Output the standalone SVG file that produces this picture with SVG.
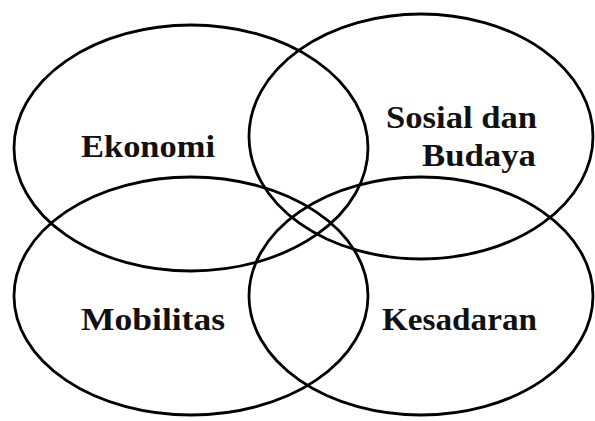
<svg xmlns="http://www.w3.org/2000/svg" width="595" height="421" viewBox="0 0 595 421">
<style>
.c{fill:none;stroke:#000;stroke-width:2.8}
.t{font-family:"Liberation Serif","Times New Roman",serif;font-weight:bold;font-size:32px;fill:#111}
</style>
<rect width="595" height="421" fill="#fff"/>
<g id="ekonomi"><ellipse class="c" cx="191" cy="148" rx="177" ry="123"/><text class="t" x="81" y="157" textLength="134" lengthAdjust="spacingAndGlyphs">Ekonomi</text></g>
<g id="sosial"><ellipse class="c" cx="421" cy="136.5" rx="172" ry="122.5"/><text class="t" x="386" y="128" textLength="151" lengthAdjust="spacingAndGlyphs">Sosial dan</text><text class="t" x="422" y="166" textLength="114" lengthAdjust="spacingAndGlyphs">Budaya</text></g>
<g id="mobilitas"><ellipse class="c" cx="191" cy="296" rx="177" ry="119"/><text class="t" x="81" y="330" textLength="144" lengthAdjust="spacingAndGlyphs">Mobilitas</text></g>
<g id="kesadaran"><ellipse class="c" cx="421" cy="296" rx="172" ry="119"/><text class="t" x="382" y="330" textLength="155" lengthAdjust="spacingAndGlyphs">Kesadaran</text></g>
<g id="connectors"/>
</svg>
